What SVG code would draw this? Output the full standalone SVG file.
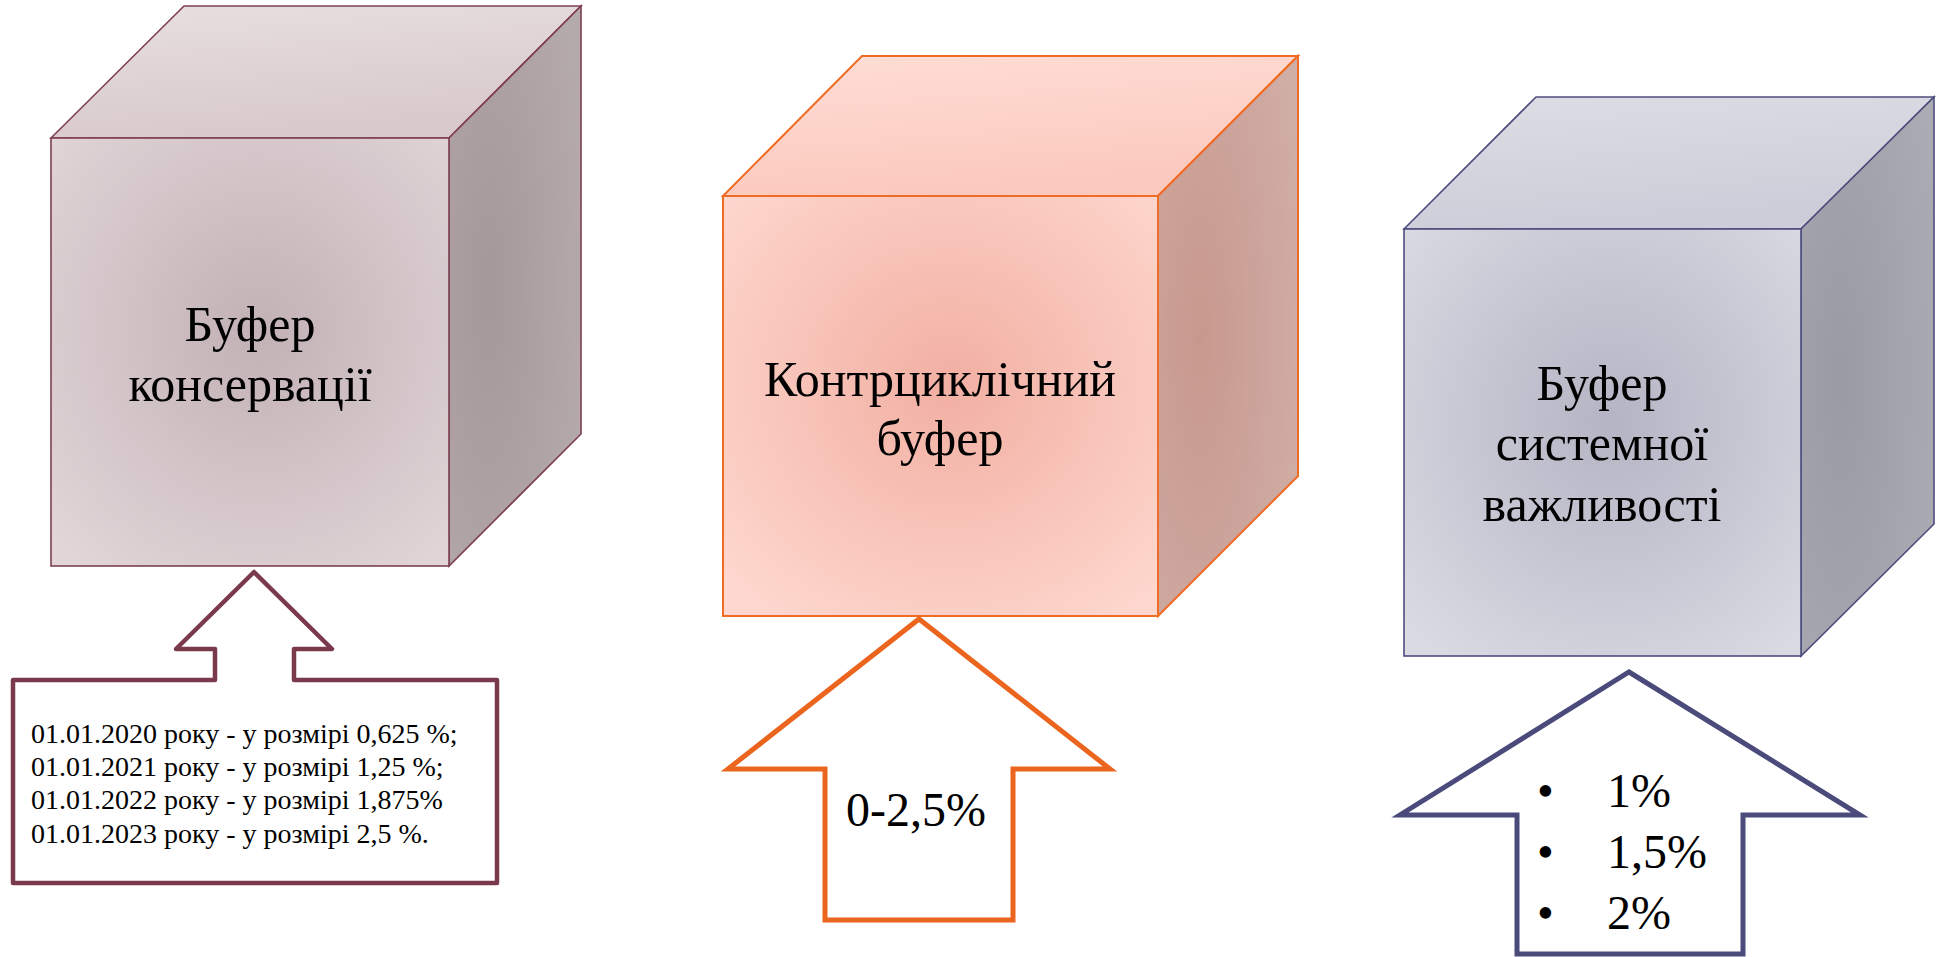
<svg xmlns="http://www.w3.org/2000/svg" width="1940" height="957" viewBox="0 0 1940 957">
  <defs>
    <radialGradient id="f1" cx="52%" cy="45%" r="70%">
      <stop offset="0" stop-color="#C2B1B5"/>
      <stop offset="1" stop-color="#E1D5D8"/>
    </radialGradient>
    <linearGradient id="t1" x1="0" y1="0" x2="0.3" y2="1">
      <stop offset="0" stop-color="#E8DFE0"/>
      <stop offset="1" stop-color="#D8C9CC"/>
    </linearGradient>
    <radialGradient id="r1" cx="30%" cy="50%" r="80%">
      <stop offset="0" stop-color="#A5989B"/>
      <stop offset="1" stop-color="#B5AAAC"/>
    </radialGradient>

    <radialGradient id="f2" cx="52%" cy="45%" r="70%">
      <stop offset="0" stop-color="#F2AFA2"/>
      <stop offset="1" stop-color="#FED8CF"/>
    </radialGradient>
    <linearGradient id="t2" x1="0" y1="0" x2="0.3" y2="1">
      <stop offset="0" stop-color="#FFDED6"/>
      <stop offset="1" stop-color="#FBC9BE"/>
    </linearGradient>
    <radialGradient id="r2" cx="30%" cy="50%" r="80%">
      <stop offset="0" stop-color="#C8988E"/>
      <stop offset="1" stop-color="#D0AEA6"/>
    </radialGradient>

    <radialGradient id="f3" cx="52%" cy="45%" r="70%">
      <stop offset="0" stop-color="#B4B4C4"/>
      <stop offset="1" stop-color="#DADAE3"/>
    </radialGradient>
    <linearGradient id="t3" x1="0" y1="0" x2="0.3" y2="1">
      <stop offset="0" stop-color="#DDDDE5"/>
      <stop offset="1" stop-color="#CDCDD9"/>
    </linearGradient>
    <radialGradient id="r3" cx="30%" cy="50%" r="80%">
      <stop offset="0" stop-color="#9A9AA5"/>
      <stop offset="1" stop-color="#ABABB3"/>
    </radialGradient>
  </defs>
  <style>
    .t { font-family: "Liberation Serif", "Times New Roman", serif; fill: #000; }
    .cube-label { font-size: 50px; text-anchor: middle; }
    .c1 { stroke: #7E4050; stroke-width: 1.6; stroke-linejoin: miter; }
    .c2 { stroke: #EE6C26; stroke-width: 2; stroke-linejoin: miter; }
    .c3 { stroke: #4D4D7F; stroke-width: 1.6; stroke-linejoin: miter; }
    .a1 { fill: #FFFFFF; stroke: #7B3A4B; stroke-width: 4.5; stroke-linejoin: round; }
    .a2 { fill: #FFFFFF; stroke: #EB651E; stroke-width: 5; stroke-linejoin: miter; stroke-miterlimit: 10; }
    .a3 { fill: #FFFFFF; stroke: #4B4B7B; stroke-width: 5; stroke-linejoin: miter; stroke-miterlimit: 10; }
  </style>
  <rect width="1940" height="957" fill="#FFFFFF"/>

  <g id="cube-conservation">
    <polygon class="c1" fill="url(#t1)" points="51,138 184,6 581,6 449,138"/>
    <polygon class="c1" fill="url(#r1)" points="449,138 581,6 581,434 449,566"/>
    <rect class="c1" fill="url(#f1)" x="51" y="138" width="398" height="428"/>
    <text class="t cube-label" x="250" y="341">Буфер</text>
    <text class="t cube-label" x="250" y="401">консервації</text>
  </g>

  <g id="cube-countercyclical">
    <polygon class="c2" fill="url(#t2)" points="723,196 862,56 1298,56 1158,196"/>
    <polygon class="c2" fill="url(#r2)" points="1158,196 1298,56 1298,476 1158,616"/>
    <rect class="c2" fill="url(#f2)" x="723" y="196" width="435" height="420"/>
    <text class="t cube-label" x="940" y="396">Контрциклічний</text>
    <text class="t cube-label" x="940" y="455">буфер</text>
  </g>

  <g id="cube-systemic">
    <polygon class="c3" fill="url(#t3)" points="1404,229 1536,97 1934,97 1801,229"/>
    <polygon class="c3" fill="url(#r3)" points="1801,229 1934,97 1934,524 1801,656"/>
    <rect class="c3" fill="url(#f3)" x="1404" y="229" width="397" height="427"/>
    <text class="t cube-label" x="1602" y="400">Буфер</text>
    <text class="t cube-label" x="1602" y="460">системної</text>
    <text class="t cube-label" x="1602" y="521">важливості</text>
  </g>

  <g id="callout-conservation">
    <path class="a1" d="M254,572 L332,649 L294,649 L294,680 L497,680 L497,883 L13,883 L13,680 L215,680 L215,649 L176,649 Z"/>
    <g class="t" font-size="28">
      <text x="31" y="743">01.01.2020 року - у розмірі 0,625 %;</text>
      <text x="31" y="776">01.01.2021 року - у розмірі 1,25 %;</text>
      <text x="31" y="809">01.01.2022 року - у розмірі 1,875%</text>
      <text x="31" y="843">01.01.2023 року - у розмірі 2,5 %.</text>
    </g>
  </g>

  <g id="callout-countercyclical">
    <path class="a2" d="M919,619 L1110,769 L1013,769 L1013,920 L825,920 L825,769 L728,769 Z"/>
    <text class="t" font-size="48" x="916" y="826" text-anchor="middle">0-2,5%</text>
  </g>

  <g id="callout-systemic">
    <path class="a3" d="M1629,672 L1860,815 L1743,815 L1743,954 L1517,954 L1517,815 L1400,815 Z"/>
    <g class="t" font-size="48">
      <text x="1537" y="807">•</text>
      <text x="1607" y="807">1%</text>
      <text x="1537" y="868">•</text>
      <text x="1607" y="868">1,5%</text>
      <text x="1537" y="929">•</text>
      <text x="1607" y="929">2%</text>
    </g>
  </g>
</svg>
